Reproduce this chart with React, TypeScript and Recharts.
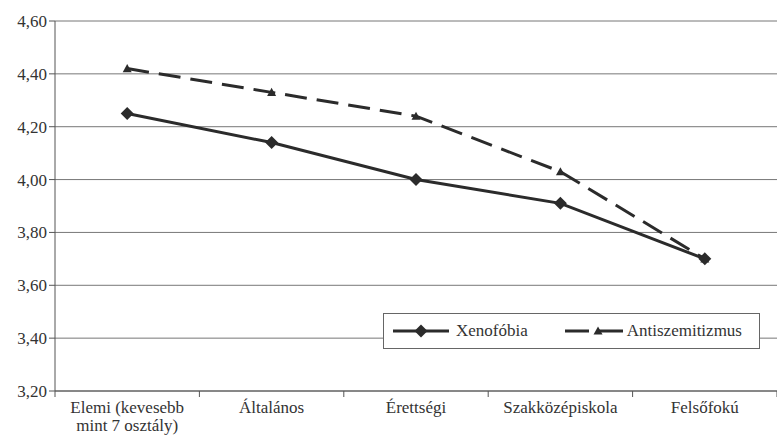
import { LineChart, Line, XAxis, YAxis, CartesianGrid } from "recharts";

const CATEGORIES = [
  "Elemi (kevesebb\nmint 7 osztály)",
  "Általános",
  "Érettségi",
  "Szakközépiskola",
  "Felsőfokú",
];
const XENOFOBIA = [4.25, 4.14, 4.0, 3.91, 3.7];
const ANTISZEMITIZMUS = [4.42, 4.33, 4.24, 4.03, 3.7];
const Y_TICKS = [3.2, 3.4, 3.6, 3.8, 4.0, 4.2, 4.4, 4.6];

const data = CATEGORIES.map((name, i) => ({
  name,
  xeno: XENOFOBIA[i],
  anti: ANTISZEMITIZMUS[i],
}));

const INK = "#2b2b2b";
const AXIS = "#555";
const FONT = "Liberation Serif";
const BAND = 144.4;

function Diamond({ cx, cy }: any) {
  if (cx == null || cy == null) return null;
  const s = 6.5;
  return <path d={`M${cx},${cy - s}L${cx + s},${cy}L${cx},${cy + s}L${cx - s},${cy}Z`} fill={INK} />;
}

function Tri({ cx, cy }: any) {
  if (cx == null || cy == null) return null;
  const s = 4.5;
  return <path d={`M${cx},${cy - s}L${cx + s},${cy + s * 0.8}L${cx - s},${cy + s * 0.8}Z`} fill={INK} />;
}

// category labels sit between tick marks, so the marks go on the band edges
function CatTick({ x, y, payload, index }: any) {
  const lines = String(payload.value).split("\n");
  return (
    <g>
      <line x1={x - BAND / 2} x2={x - BAND / 2} y1={y - 8} y2={y - 2} stroke={AXIS} />
      {index === CATEGORIES.length - 1 && (
        <line x1={x + BAND / 2} x2={x + BAND / 2} y1={y - 8} y2={y - 2} stroke={AXIS} />
      )}
      <text x={x} y={y + 14} textAnchor="middle" fontSize={17} fill="#333" fontFamily={FONT}>
        {lines.map((l, i) => (
          <tspan key={i} x={x} dy={i === 0 ? 0 : 18}>{l}</tspan>
        ))}
      </text>
    </g>
  );
}

function LegendBox() {
  return (
    <div
      style={{
        position: "absolute",
        left: 383,
        top: 313,
        width: 377,
        height: 36,
        border: "1px solid #666",
        background: "#fff",
        display: "flex",
        alignItems: "center",
        fontFamily: FONT,
        fontSize: 17,
        color: "#333",
        boxSizing: "border-box",
      }}
    >
      <svg width={58} height={20} style={{ marginLeft: 9 }}>
        <line x1={0} x2={56} y1={10} y2={10} stroke={INK} strokeWidth={3} />
        <Diamond cx={28} cy={10} />
      </svg>
      <span style={{ marginLeft: 5 }}>Xenofóbia</span>
      <svg width={60} height={20} style={{ marginLeft: 37 }}>
        <line x1={0} x2={58} y1={10} y2={10} stroke={INK} strokeWidth={3} strokeDasharray="24 10" />
        <Tri cx={33} cy={10} />
      </svg>
      <span style={{ marginLeft: 2 }}>Antiszemitizmus</span>
    </div>
  );
}

export default function App() {
  return (
    <div
      style={{
        position: "absolute",
        left: 0,
        top: 0,
        width: 777,
        height: 440,
        background: "#fff",
        fontFamily: FONT,
      }}
    >
      <LineChart
        width={777}
        height={440}
        data={data}
        margin={{ top: 21, right: 0, bottom: 0, left: 0 }}
      >
        <CartesianGrid vertical={false} stroke="#777" strokeWidth={1} />
        <XAxis
          dataKey="name"
          scale="band"
          height={49}
          stroke={AXIS}
          tickLine={false}
          interval={0}
          tick={<CatTick />}
        />
        <YAxis
          width={55}
          domain={[3.2, 4.6]}
          ticks={Y_TICKS}
          stroke={AXIS}
          tickSize={6}
          tick={{ fontSize: 17, fill: "#333", fontFamily: FONT }}
          tickFormatter={(v: number) => v.toFixed(2).replace(".", ",")}
        />
        <Line
          dataKey="anti"
          stroke={INK}
          strokeWidth={3}
          strokeDasharray="22 10"
          dot={<Tri />}
          activeDot={false}
          isAnimationActive={false}
        />
        <Line
          dataKey="xeno"
          stroke={INK}
          strokeWidth={3}
          dot={<Diamond />}
          activeDot={false}
          isAnimationActive={false}
        />
      </LineChart>
      <LegendBox />
    </div>
  );
}
